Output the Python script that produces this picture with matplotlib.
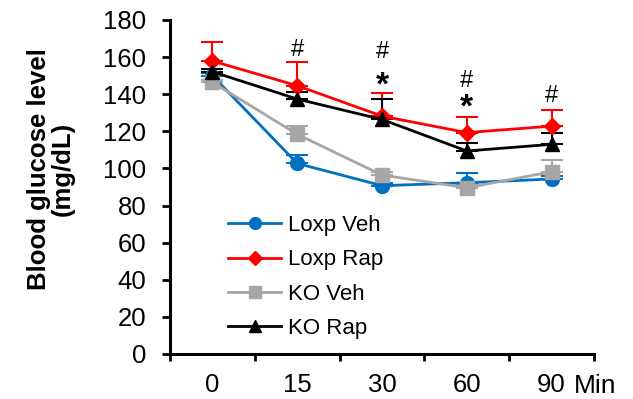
import numpy as np
from matplotlib import pyplot as plt
from matplotlib.lines import Line2D

plt.rcParams["font.family"] = ["Liberation Sans", "DejaVu Sans"]

times = ["0", "15", "30", "60", "90"]

loxp_veh = [150, 102.7, 90.7, 92.3, 94.3]
loxp_rap = [157.9, 144.6, 128.2, 119.3, 122.8]
ko_veh = [146.4, 118.4, 96.4, 89.6, 98.2]
ko_rap = [152.1, 137.4, 126.4, 109.4, 113.0]

loxp_veh_err = [1.5, 4.5, 1.5, 5, 1.5]
loxp_rap_err = [10, 13, 12.6, 8.2, 8.7]
ko_veh_err = [1.5, 4.4, 1.5, 1.5, 6.3]
ko_rap_err = [1.5, 4, 10.8, 4.5, 5.9]

# significance marks: (time index, y value, symbol)
marks = [(1, 164.9, "#"), (2, 163.8, "#"), (2, 147.6, "*"),
         (3, 148.2, "#"), (3, 135.3, "*"), (4, 140.1, "#")]

series = [
    ("Loxp Veh", loxp_veh, loxp_veh_err, "#0070C0", "o", 10),
    ("Loxp Rap", loxp_rap, loxp_rap_err, "#FF0000", "D", 8.5),
    ("KO Veh", ko_veh, ko_veh_err, "#A6A6A6", "s", 9.5),
    ("KO Rap", ko_rap, ko_rap_err, "#000000", "^", 10.5),
]

fig = plt.figure(figsize=(6.33, 3.99), dpi=100)
ax = fig.add_axes([0.2686, 0.1128, 0.6698, 0.8371])

x = np.arange(len(times))
handles = []
for label, vals, err, color, marker, ms in series:
    ax.errorbar(x, vals, yerr=[np.zeros(len(err)), err], color=color,
                marker=marker, markersize=ms, linewidth=2, elinewidth=1.5,
                capsize=8, capthick=1.5)
    handles.append(Line2D([], [], color=color, marker=marker,
                          markersize=ms * 0.85, linewidth=2, label=label))

for i, y, s in marks:
    if s == "*":
        ax.text(i, y - 3, s, ha="center", va="center", fontsize=24,
                fontweight="bold")
    else:
        ax.text(i, y - 1, s, ha="center", va="center", fontsize=17)

ax.set_ylim(0, 180)
ax.set_xlim(-0.5, 4.5)
ax.set_yticks(range(0, 181, 20))
ax.set_xticks(np.arange(-0.5, 4.6, 1))
ax.set_xticklabels([])
ax.set_xticks(x, minor=True)
ax.set_xticklabels(times, minor=True)

for side in ["top", "right"]:
    ax.spines[side].set_visible(False)
for side in ["left", "bottom"]:
    ax.spines[side].set_linewidth(2.2)

ax.tick_params(axis="y", which="major", direction="out", length=6,
               width=2, labelsize=18.5, pad=11)
ax.tick_params(axis="x", which="major", direction="out", length=5,
               width=2)
ax.tick_params(axis="x", which="minor", length=0, labelsize=18.5, pad=14)

ax.set_ylabel("Blood glucose level\n(mg/dL)", fontsize=18.5,
              fontweight="bold", linespacing=1.0)
ax.yaxis.set_label_coords(-0.224, 0.554)
fig.text(574 / 633, 1 - 393 / 399, "Min", fontsize=19, ha="left",
         va="baseline")

ax.legend(handles=handles, loc="upper left",
          bbox_to_anchor=(228 / 633, 1 - 215 / 399),
          bbox_transform=fig.transFigure, frameon=False, fontsize=16,
          handlelength=2.4, handletextpad=0.3, labelspacing=0.6,
          borderaxespad=0, borderpad=0)

fig.savefig("out.png", dpi=100)
